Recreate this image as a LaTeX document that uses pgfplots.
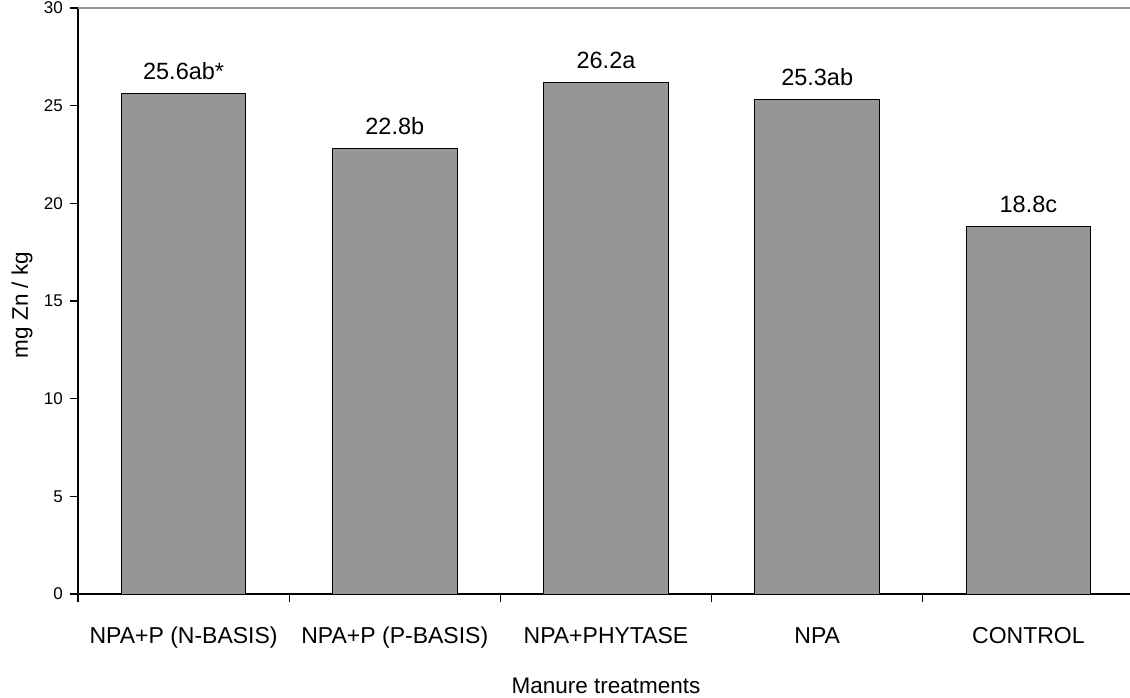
\documentclass[border=0pt]{standalone}
\usepackage{fontspec}
\setmainfont{Liberation Sans}
\usepackage{pgfplots}
\pgfplotsset{compat=1.18}
\usepackage{pgfplotstable}
\definecolor{barfill}{HTML}{969696}
\definecolor{topgray}{HTML}{969696}
\pgfplotstableread{
x y lab
0 25.6 25.6ab*
1 22.8 22.8b
2 26.2 26.2a
3 25.3 25.3ab
4 18.8 18.8c
}\datatable
\begin{document}
\begin{tikzpicture}[x=1pt,y=1pt]
\path[use as bounding box] (-78,-103) rectangle (1052,594);
\begin{axis}[
  at={(0,0)}, anchor=south west,
  scale only axis, width=1056pt, height=586pt,
  xmin=-0.5, xmax=4.5, ymin=0, ymax=30,
  axis x line*=bottom, axis y line*=left,
  axis line style={-, black, line width=1.2pt},
  tick align=outside,
  major tick length=8pt,
  tick style={black, line width=1.2pt},
  ytick={0,5,10,15,20,25,30},
  /pgf/number format/assume math mode=true,
  yticklabel style={font=\fontsize{17}{20}\selectfont, anchor=east, inner sep=0pt, xshift=-7pt},
  xtick={-0.5,0.5,1.5,2.5,3.5,4.5},
  xticklabels={},
  extra x ticks={0,1,2,3,4},
  extra x tick labels={NPA+P (N-BASIS),NPA+P (P-BASIS),NPA+PHYTASE,NPA,CONTROL},
  extra x tick style={major tick length=0pt, tick style={draw=none}},
  xticklabel style={font=\fontsize{23}{27}\selectfont, anchor=base, inner sep=0pt, yshift=-49pt},
  every axis x label/.style={at={(axis description cs:0.5,0)}, anchor=base, inner sep=0pt, yshift=-99pt, font=\fontsize{22.5}{26}\selectfont},
  every axis y label/.style={at={(axis description cs:0,0.5)}, rotate=90, anchor=center, yshift=56pt, xshift=-4pt, font=\fontsize{22.5}{26}\selectfont},
  xlabel={Manure treatments},
  ylabel={mg Zn / kg},
  clip=false,
]
\draw[topgray, line width=2.2pt] (rel axis cs:0,1) -- (rel axis cs:1,1);
\addplot[ybar, bar width=0.59, fill=barfill, draw=black, line width=1pt,
  nodes near coords, point meta=explicit symbolic,
  nodes near coords style={anchor=base, yshift=14pt, inner sep=0pt, font=\fontsize{23.5}{27}\selectfont, text=black}]
  table[x=x, y=y, meta=lab] {\datatable};
\end{axis}
\end{tikzpicture}
\end{document}
